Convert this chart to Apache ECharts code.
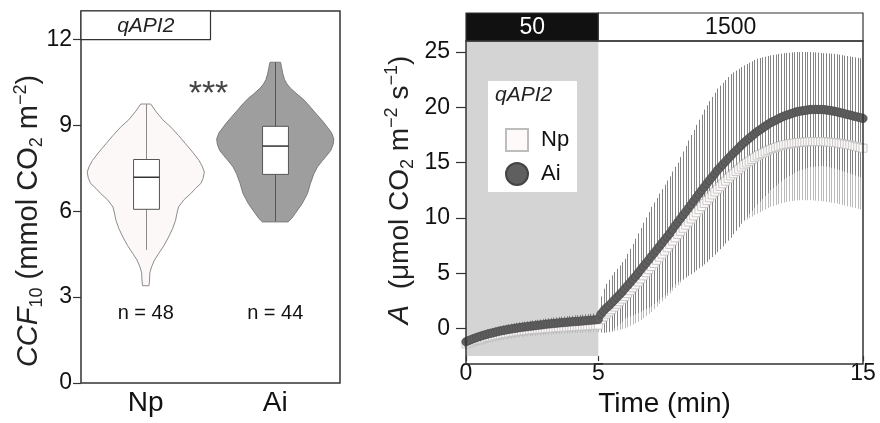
<!DOCTYPE html>
<html><head><meta charset="utf-8">
<script src="https://cdn.jsdelivr.net/npm/echarts@6/dist/echarts.min.js"></script>
<style>html,body{margin:0;padding:0;background:#fff}#c{width:880px;height:423px}</style>
</head><body><div id="c"></div>
<script>
const FONT = '"Liberation Sans", Arial, Helvetica, sans-serif';

// ---------- Left panel data (CCF10 violin + box) ----------
const groups = ['Np', 'Ai'];
const groupN = [48, 44];
const leftYTicks = [0, 3, 6, 9, 12];
// box stats: [min, Q1, median, Q3, max]
const boxNp = [4.65, 6.07, 7.19, 7.81, 9.75];
const boxAi = [5.65, 7.29, 8.28, 8.97, 11.2];
// violin outlines: value levels (top -> bottom) and relative half-width (density)
const violinNpY = [9.75, 9.5, 9.2, 8.94, 8.65, 8.36, 8.07, 7.78, 7.55, 7.37, 7.15, 6.97, 6.8, 6.62, 6.4, 6.15, 5.9, 5.69, 5.4, 5.1, 4.8, 4.52, 4.3, 4.06, 3.85, 3.6, 3.4];
const violinNpW = [0.085, 0.17, 0.29, 0.43, 0.56, 0.68, 0.80, 0.91, 0.97, 1.0, 0.98, 0.94, 0.85, 0.77, 0.65, 0.56, 0.53, 0.51, 0.46, 0.39, 0.31, 0.22, 0.15, 0.10, 0.07, 0.065, 0.055];
const violinAiY = [11.21, 11.0, 10.8, 10.6, 10.45, 10.3, 10.1, 9.93, 9.76, 9.5, 9.29, 9.1, 8.94, 8.75, 8.53, 8.35, 8.13, 7.95, 7.78, 7.55, 7.31, 6.97, 6.62, 6.27, 5.92, 5.75, 5.63];
const violinAiW = [0.09, 0.11, 0.13, 0.16, 0.20, 0.26, 0.37, 0.47, 0.55, 0.66, 0.75, 0.83, 0.89, 0.96, 1.0, 0.99, 0.95, 0.88, 0.81, 0.72, 0.66, 0.60, 0.55, 0.46, 0.34, 0.28, 0.22];

// ---------- Right panel data (A time course, every 0.1 min from 0 to 15) ----------
const aiMean = [
 -1.20,-1.10,-1.00,-0.91,-0.82,-0.74,-0.66,-0.59,-0.52,-0.46,
 -0.40,-0.34,-0.28,-0.23,-0.18,-0.13,-0.09,-0.05,-0.01,0.03,
 0.07,0.10,0.13,0.16,0.19,0.22,0.25,0.28,0.31,0.34,
 0.37,0.40,0.42,0.45,0.47,0.50,0.52,0.54,0.56,0.58,
 0.60,0.62,0.64,0.66,0.68,0.70,0.72,0.74,0.76,0.78,
 0.82,1.30,1.60,1.85,2.05,2.30,2.55,2.80,3.05,3.30,
 3.60,3.87,4.14,4.42,4.70,5.00,5.30,5.60,5.90,6.20,
 6.50,6.80,7.10,7.40,7.70,8.00,8.30,8.60,8.95,9.30,
 9.60,9.92,10.24,10.56,10.88,11.20,11.52,11.84,12.16,12.48,
 12.80,13.10,13.40,13.70,14.00,14.30,14.56,14.82,15.08,15.34,
 15.60,15.84,16.08,16.32,16.56,16.80,17.00,17.20,17.40,17.60,
 17.80,17.96,18.12,18.28,18.44,18.60,18.72,18.84,18.96,19.08,
 19.20,19.28,19.36,19.44,19.52,19.60,19.64,19.68,19.72,19.76,
 19.80,19.80,19.81,19.81,19.80,19.80,19.77,19.73,19.69,19.65,
 19.60,19.54,19.48,19.42,19.36,19.30,19.24,19.18,19.12,19.06,
 19.00];
const aiSD = [
 0.40,0.40,0.41,0.41,0.42,0.42,0.43,0.43,0.44,0.44,
 0.45,0.45,0.46,0.46,0.47,0.47,0.48,0.48,0.49,0.49,
 0.50,0.50,0.50,0.51,0.51,0.51,0.52,0.52,0.52,0.53,
 0.53,0.53,0.54,0.54,0.54,0.55,0.55,0.55,0.56,0.56,
 0.56,0.57,0.57,0.57,0.58,0.58,0.58,0.59,0.59,0.59,
 0.60,1.60,2.00,2.20,2.35,2.50,2.55,2.60,2.65,2.70,
 2.70,2.88,3.06,3.24,3.42,3.60,3.78,3.96,4.14,4.32,
 4.50,4.60,4.70,4.80,4.90,5.00,5.08,5.16,5.24,5.32,
 5.40,5.58,5.76,5.94,6.12,6.30,6.44,6.58,6.72,6.86,
 7.00,7.08,7.16,7.24,7.32,7.40,7.40,7.40,7.40,7.40,
 7.40,7.32,7.24,7.16,7.08,7.00,6.92,6.84,6.76,6.68,
 6.60,6.50,6.40,6.30,6.20,6.10,6.02,5.94,5.86,5.78,
 5.70,5.64,5.58,5.52,5.46,5.40,5.36,5.32,5.28,5.24,
 5.20,5.18,5.16,5.14,5.12,5.10,5.12,5.14,5.16,5.18,
 5.20,5.22,5.24,5.26,5.28,5.30,5.32,5.34,5.36,5.38,
 5.40];
const npMean = [
 -1.40,-1.32,-1.24,-1.16,-1.09,-1.02,-0.95,-0.88,-0.82,-0.76,
 -0.70,-0.64,-0.59,-0.54,-0.49,-0.45,-0.41,-0.37,-0.33,-0.29,
 -0.26,-0.23,-0.20,-0.17,-0.14,-0.12,-0.10,-0.08,-0.06,-0.04,
 -0.02,0.00,0.02,0.04,0.06,0.08,0.09,0.11,0.12,0.14,
 0.15,0.17,0.18,0.20,0.21,0.23,0.24,0.26,0.27,0.29,
 0.30,0.80,1.05,1.30,1.50,1.70,1.94,2.18,2.42,2.66,
 2.90,3.16,3.42,3.68,3.94,4.20,4.48,4.76,5.04,5.32,
 5.60,5.88,6.16,6.44,6.72,7.00,7.30,7.60,7.90,8.20,
 8.50,8.78,9.06,9.34,9.62,9.90,10.18,10.46,10.74,11.02,
 11.30,11.56,11.82,12.08,12.34,12.60,12.84,13.08,13.32,13.56,
 13.80,14.00,14.20,14.40,14.60,14.80,14.96,15.12,15.28,15.44,
 15.60,15.72,15.84,15.96,16.08,16.20,16.28,16.36,16.44,16.52,
 16.60,16.64,16.68,16.72,16.76,16.80,16.82,16.84,16.86,16.88,
 16.90,16.90,16.90,16.90,16.90,16.90,16.88,16.86,16.84,16.82,
 16.80,16.76,16.72,16.68,16.64,16.60,16.54,16.48,16.42,16.36,
 16.30];
const npSD = [
 0.45,0.45,0.46,0.46,0.47,0.47,0.48,0.48,0.49,0.49,
 0.50,0.50,0.51,0.51,0.52,0.52,0.52,0.53,0.53,0.53,
 0.54,0.54,0.54,0.55,0.55,0.55,0.56,0.56,0.56,0.56,
 0.57,0.57,0.57,0.57,0.58,0.58,0.58,0.58,0.59,0.59,
 0.59,0.59,0.60,0.60,0.60,0.60,0.61,0.61,0.61,0.61,
 0.62,1.20,1.45,1.65,1.85,2.00,2.18,2.36,2.54,2.72,
 2.90,3.04,3.18,3.32,3.46,3.60,3.70,3.80,3.90,4.00,
 4.10,4.14,4.18,4.22,4.26,4.30,4.36,4.42,4.48,4.54,
 4.60,4.64,4.68,4.72,4.76,4.80,4.82,4.84,4.86,4.88,
 4.90,4.90,4.90,4.90,4.90,4.90,4.92,4.94,4.96,4.98,
 5.00,5.02,5.04,5.06,5.08,5.10,5.12,5.14,5.16,5.18,
 5.20,5.20,5.20,5.20,5.20,5.20,5.20,5.20,5.20,5.20,
 5.20,5.20,5.20,5.20,5.20,5.20,5.22,5.24,5.26,5.28,
 5.30,5.32,5.34,5.36,5.38,5.40,5.42,5.44,5.46,5.48,
 5.50,5.52,5.54,5.56,5.58,5.60,5.60,5.60,5.60,5.60,
 5.60];
const sampleStepMin = 0.1;
const time = aiMean.map((_, i) => +(i * sampleStepMin).toFixed(1));
const rightYTicks = [0, 5, 10, 15, 20, 25];
const rightXTicks = [0, 5, 15];
const phaseStart = [0, 5];
const phaseEnd = [5, 15];
const phaseLabel = ['50', '1500'];

// ---------- layout ----------
const L = {x: 81, y: 11, w: 259, h: 372};
const R = {x: 466, y: 41, w: 397, h: 323};
const HEAD_H = 28;

const chart = echarts.init(document.getElementById('c'), null, {renderer: 'canvas', devicePixelRatio: 1});

function violinRender(params, api) {
  const i = params.dataIndex;
  const ys = i === 0 ? violinNpY : violinAiY;
  const ws = i === 0 ? violinNpW : violinAiW;
  const cx = api.coord([i, 0])[0];
  const half = api.size([1, 0])[0] * 0.452;
  const right = ys.map((v, k) => [cx + ws[k] * half, api.coord([i, v])[1]]);
  const left = ys.map((v, k) => [cx - ws[k] * half, api.coord([i, v])[1]]).reverse();
  return {
    type: 'polygon',
    shape: {points: right.concat(left)},
    style: i === 0 ? {fill: '#fdf8f8', stroke: '#8c8c8c', lineWidth: 1}
                   : {fill: '#9e9e9e', stroke: '#7a7a7a', lineWidth: 1}
  };
}
function boxRender(params, api) {
  const i = params.dataIndex;
  const b = i === 0 ? boxNp : boxAi;
  const cx = Math.round(api.coord([i, 0])[0]) + 0.5;
  const bw = api.size([1, 0])[0] * 0.2;
  const y = v => api.coord([i, v])[1];
  return {
    type: 'group',
    children: [
      {type: 'line', shape: {x1: cx, y1: y(b[0]), x2: cx, y2: y(b[4])}, style: {stroke: i === 0 ? '#8a8a8a' : '#555', lineWidth: 1}},
      {type: 'rect', shape: {x: cx - bw / 2, y: y(b[3]), width: bw, height: y(b[1]) - y(b[3])}, style: {fill: '#fff', stroke: '#555', lineWidth: 1}},
      {type: 'line', shape: {x1: cx - bw / 2, y1: y(b[2]), x2: cx + bw / 2, y2: y(b[2])}, style: {stroke: '#333', lineWidth: 1.5}}
    ]
  };
}
function errRender(color) {
  return function (params, api) {
    const t = api.value(0), m = api.value(1), s = api.value(2);
    const p1 = api.coord([t, m + s]);
    const p2 = api.coord([t, m - s]);
    const x = Math.round(p1[0]) + 0.5;
    return {type: 'line', shape: {x1: x, y1: p1[1], x2: x, y2: p2[1]}, style: {stroke: color, lineWidth: 1}};
  };
}
function phaseRender(params, api) {
  const i = params.dataIndex;
  const cs = params.coordSys;
  const x0 = api.coord([phaseStart[i], 0])[0];
  const x1 = api.coord([phaseEnd[i], 0])[0];
  const children = [];
  if (i === 0) {
    children.push({type: 'rect', shape: {x: x0, y: cs.y, width: x1 - x0, height: cs.height}, style: {fill: '#d4d4d4'}});
  }
  children.push({type: 'rect', shape: {x: x0, y: cs.y - HEAD_H, width: x1 - x0, height: HEAD_H},
    style: {fill: i === 0 ? '#111' : '#fff', stroke: '#333', lineWidth: 1.2}});
  children.push({type: 'text', x: (x0 + x1) / 2, y: cs.y - HEAD_H / 2 + 1,
    style: {text: phaseLabel[i], fill: i === 0 ? '#fff' : '#111', fontSize: 23, fontFamily: FONT, align: 'center', verticalAlign: 'middle'}});
  return {type: 'group', children};
}

const subRich = {
  i: {fontStyle: 'italic', fontSize: 29, fontFamily: FONT, fill: '#222', lineHeight: 34},
  sub: {fontSize: 18, fontFamily: FONT, fill: '#222', verticalAlign: 'bottom', lineHeight: 17},
  sup: {fontSize: 18, fontFamily: FONT, fill: '#222', verticalAlign: 'top', lineHeight: 17}
};

const option = {
  animation: false,
  backgroundColor: '#fff',
  textStyle: {fontFamily: FONT},
  grid: [
    {left: L.x, top: L.y, width: L.w, height: L.h},
    {left: R.x, top: R.y, width: R.w, height: R.h}
  ],
  xAxis: [
    {gridIndex: 0, type: 'category', data: groups, boundaryGap: true,
     axisLine: {show: false, onZero: false}, axisTick: {show: false}, splitLine: {show: false},
     axisLabel: {fontSize: 28, color: '#111', margin: 6, fontFamily: FONT}},
    {gridIndex: 1, type: 'value', min: 0, max: 15,
     axisLine: {show: false, onZero: false}, splitLine: {show: false},
     axisTick: {show: true, length: 5, customValues: rightXTicks, lineStyle: {color: '#333', width: 1.2}},
     axisLabel: {fontSize: 23, color: '#111', margin: 6, customValues: rightXTicks, fontFamily: FONT},
     name: 'Time (min)', nameLocation: 'middle', nameGap: 27,
     nameTextStyle: {fontSize: 28, color: '#111', fontFamily: FONT}}
  ],
  yAxis: [
    {gridIndex: 0, type: 'value', min: 0, max: 13,
     axisLine: {show: false, onZero: false}, splitLine: {show: false},
     axisTick: {show: true, length: 8, customValues: leftYTicks, lineStyle: {color: '#333', width: 1.2}},
     axisLabel: {fontSize: 23, color: '#111', margin: 9, customValues: leftYTicks, fontFamily: FONT}},
    {gridIndex: 1, type: 'value', min: -2.5, max: 26,
     axisLine: {show: false, onZero: false}, splitLine: {show: false},
     axisTick: {show: true, length: 10, customValues: rightYTicks, lineStyle: {color: '#333', width: 1.2}},
     axisLabel: {fontSize: 23, color: '#111', margin: 16, customValues: rightYTicks, fontFamily: FONT}}
  ],
  legend: {
    show: true, orient: 'vertical', left: 500, top: 123, z: 20,
    itemWidth: 22, itemHeight: 22, itemGap: 10, selectedMode: false,
    data: [{name: 'Np'}, {name: 'Ai'}],
    textStyle: {fontSize: 22, color: '#111', fontFamily: FONT, padding: [0, 0, 0, 8]}
  },
  series: [
    {type: 'custom', name: 'violin', xAxisIndex: 0, yAxisIndex: 0, z: 2,
     data: groups.map((g, i) => [i]), renderItem: violinRender, silent: true},
    {type: 'custom', name: 'box', xAxisIndex: 0, yAxisIndex: 0, z: 3,
     data: groups.map((g, i) => [i]), renderItem: boxRender, silent: true},
    {type: 'custom', name: 'phase', xAxisIndex: 1, yAxisIndex: 1, z: 1, clip: false,
     encode: {x: 0}, data: phaseStart.map((s) => [s]), renderItem: phaseRender, silent: true},
    {type: 'custom', name: 'npErr', xAxisIndex: 1, yAxisIndex: 1, z: 2, clip: true,
     data: time.map((t, i) => [t, npMean[i], npSD[i]]), renderItem: errRender('#bababa'), silent: true},
    {type: 'custom', name: 'aiErr', xAxisIndex: 1, yAxisIndex: 1, z: 3, clip: true,
     data: time.map((t, i) => [t, aiMean[i], aiSD[i]]), renderItem: errRender('#838383'), silent: true},
    {type: 'scatter', name: 'Np', xAxisIndex: 1, yAxisIndex: 1, z: 4, symbol: 'rect', symbolSize: 8,
     itemStyle: {color: '#fffafa', borderColor: '#bdbdbd', borderWidth: 0.8, opacity: 1},
     data: time.map((t, i) => [t, npMean[i]]), silent: true},
    {type: 'scatter', name: 'Ai', xAxisIndex: 1, yAxisIndex: 1, z: 5, symbol: 'circle', symbolSize: 8.5,
     itemStyle: {color: '#5f5f5f', borderColor: '#444', borderWidth: 0.5, opacity: 1},
     data: time.map((t, i) => [t, aiMean[i]]), silent: true}
  ],
  graphic: [
    // frames
    {type: 'rect', z: 30, shape: {x: L.x, y: L.y, width: L.w, height: L.h}, style: {fill: 'none', stroke: '#333', lineWidth: 1.5}},
    {type: 'rect', z: 30, shape: {x: R.x, y: R.y, width: R.w, height: R.h}, style: {fill: 'none', stroke: '#333', lineWidth: 1.5}},
    // left strip label
    {type: 'rect', z: 31, shape: {x: L.x, y: L.y, width: L.w / 2, height: L.h / 13}, style: {fill: '#fff', stroke: '#333', lineWidth: 1.2}},
    {type: 'text', z: 32, x: L.x + L.w / 4, y: L.y + L.h / 26 + 1,
     style: {text: 'qAPI2', fontStyle: 'italic', fontSize: 21, fontFamily: FONT, fill: '#222', align: 'center', verticalAlign: 'middle'}},
    // annotations
    {type: 'text', z: 32, x: L.x + L.w / 2 - 2, y: 95,
     style: {text: '***', fontSize: 34, fontFamily: FONT, fill: '#444', align: 'center', verticalAlign: 'middle'}},
    {type: 'text', z: 32, x: L.x + L.w / 4, y: 313,
     style: {text: 'n = ' + groupN[0], fontSize: 20, fontFamily: FONT, fill: '#111', align: 'center', verticalAlign: 'middle'}},
    {type: 'text', z: 32, x: L.x + 3 * L.w / 4, y: 313,
     style: {text: 'n = ' + groupN[1], fontSize: 20, fontFamily: FONT, fill: '#111', align: 'center', verticalAlign: 'middle'}},
    // legend box
    {type: 'rect', z: 15, shape: {x: 488, y: 81, width: 89, height: 111}, style: {fill: '#fff', stroke: 'none'}},
    {type: 'text', z: 20, x: 495, y: 95,
     style: {text: 'qAPI2', fontStyle: 'italic', fontSize: 21, fontFamily: FONT, fill: '#222', align: 'left', verticalAlign: 'middle'}},
    // axis titles
    {type: 'text', z: 32, x: 29, y: 221, rotation: Math.PI / 2,
     style: {text: '{i|CCF}{sub|10} (mmol CO{sub|2} m{sup|\u22122})', fontSize: 29, fontFamily: FONT, fill: '#222',
       align: 'center', verticalAlign: 'middle', rich: subRich}},
    {type: 'text', z: 32, x: 400, y: 190, rotation: Math.PI / 2,
     style: {text: '{i|A}  (\u03bcmol CO{sub|2} m{sup|\u22122} s{sup|\u22121})', fontSize: 28, fontFamily: FONT, fill: '#222',
       align: 'center', verticalAlign: 'middle', rich: subRich}}
  ]
};
chart.setOption(option);
</script>
</body></html>
